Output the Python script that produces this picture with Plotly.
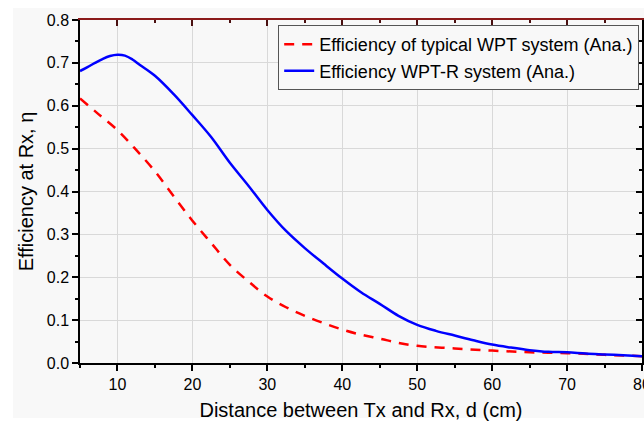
import plotly.graph_objects as go

# Data
dist_blue = [5, 6, 7, 8, 9, 10, 11, 12, 13, 15, 17.5, 20, 22.5, 25, 27.5, 30, 32.5, 35, 37.5, 40,
             42.5, 45, 47.5, 50, 52.5, 55, 57.5, 60, 62.5, 65, 67.5, 70, 72.5, 75, 77.5, 80]
eff_wptr = [0.681, 0.690, 0.700, 0.709, 0.716, 0.719, 0.717, 0.708, 0.695, 0.670, 0.627, 0.578, 0.527,
            0.467, 0.413, 0.357, 0.308, 0.268, 0.232, 0.197, 0.165, 0.138, 0.11, 0.089, 0.075, 0.064,
            0.053, 0.043, 0.036, 0.030, 0.026, 0.025, 0.022, 0.020, 0.018, 0.016]

dist_red = [5, 7.5, 10, 12.5, 15, 17.5, 20, 22.5, 25, 27.5, 30, 32.5, 35, 37.5, 40, 42.5, 45, 47.5,
            50, 55, 60, 65, 70, 75, 80]
eff_typical = [0.617, 0.58, 0.543, 0.497, 0.447, 0.389, 0.332, 0.28, 0.229, 0.19, 0.155, 0.13, 0.11,
               0.093, 0.078, 0.066, 0.057, 0.047, 0.040, 0.034, 0.029, 0.025, 0.023, 0.019, 0.016]

x_ticks = [10, 20, 30, 40, 50, 60, 70, 80]
y_ticks = [0.0, 0.1, 0.2, 0.3, 0.4, 0.5, 0.6, 0.7, 0.8]

BG = "#f8f8f8"
FONT = "Liberation Sans, Arial, sans-serif"

fig = go.Figure()
fig.add_trace(go.Scatter(x=dist_red, y=eff_typical, mode="lines", line_shape="spline",
                         name="Efficiency of typical WPT system (Ana.)",
                         line=dict(color="#ff0000", width=2.5, dash="10px,8px")))
fig.add_trace(go.Scatter(x=dist_blue, y=eff_wptr, mode="lines", line_shape="spline",
                         name="Efficiency WPT-R system (Ana.)",
                         line=dict(color="#0000ff", width=2.5)))
# invisible trace to anchor the mirrored axes
fig.add_trace(go.Scatter(x=dist_blue, y=eff_wptr, xaxis="x2", yaxis="y2", mode="lines",
                         line=dict(width=0), opacity=0, showlegend=False, hoverinfo="skip"))

fig.update_layout(
    width=644, height=421,
    margin=dict(l=80, r=2, t=20, b=58),
    paper_bgcolor="white", plot_bgcolor=BG,
    font=dict(family=FONT, size=16, color="black"),
    showlegend=True,
    legend=dict(x=0.995, y=0.985, xanchor="right", yanchor="top", bgcolor=BG,
                bordercolor="#555555", borderwidth=1, font=dict(size=18, family=FONT),
                tracegroupgap=0, itemwidth=30),
    xaxis=dict(range=[5, 80], tickvals=x_ticks, showline=True, linecolor="black", linewidth=1.5,
               ticks="outside", ticklen=6, tickwidth=1.5, tickcolor="black",
               ticklabeloverflow="allow",
               minor=dict(dtick=5, tick0=0, ticks="outside", ticklen=3, tickwidth=1.5,
                          tickcolor="black", showgrid=False),
               showgrid=True, gridcolor="#d9d9d9", gridwidth=1, zeroline=False, automargin=False,
               title=dict(text="Distance between Tx and Rx, d (cm)", font=dict(size=20), standoff=12),
               tickfont=dict(size=16)),
    yaxis=dict(range=[0, 0.8], tickvals=y_ticks, tickformat=".1f", showline=True, linecolor="black",
               linewidth=1.5, ticks="outside", ticklen=6, tickwidth=1.5, tickcolor="black",
               minor=dict(dtick=0.05, tick0=0, ticks="outside", ticklen=3, tickwidth=1.5,
                          tickcolor="black", showgrid=False),
               showgrid=True, gridcolor="#d9d9d9", gridwidth=1, zeroline=False, automargin=False,
               title=dict(text="Efficiency at Rx, η", font=dict(size=20), standoff=8),
               tickfont=dict(size=16)),
    xaxis2=dict(overlaying="x", side="top", matches="x", range=[5, 80], tickvals=x_ticks,
                showticklabels=False, showline=True, linecolor="#8b1a1a", linewidth=1.5,
                ticks="inside", ticklen=6, tickwidth=1.5, tickcolor="#4a1010",
                minor=dict(dtick=5, tick0=0, ticks="inside", ticklen=3, tickwidth=1.5,
                           tickcolor="#4a1010"),
                showgrid=False, zeroline=False, automargin=False),
    yaxis2=dict(overlaying="y", side="right", range=[0, 0.8], tickvals=y_ticks,
                showticklabels=False, showline=True, linecolor="black", linewidth=1.5,
                ticks="inside", ticklen=6, tickwidth=1.5, tickcolor="black",
                minor=dict(dtick=0.05, tick0=0, ticks="inside", ticklen=3, tickwidth=1.5,
                           tickcolor="black"),
                showgrid=False, zeroline=False, automargin=False),
)

# light gray panel behind the whole chart (white strip at top and left, as in the reference)
fig.add_shape(type="rect", xref="paper", yref="paper", x0=-0.119, x1=1.01, y0=-0.16, y1=1.035,
              fillcolor=BG, line=dict(width=0), layer="below")

fig.write_html(
    "out.html",
    config={"displayModeBar": False},
    post_script=("document.body.style.margin='0';"
                 "document.documentElement.style.overflow='hidden';"),
)
